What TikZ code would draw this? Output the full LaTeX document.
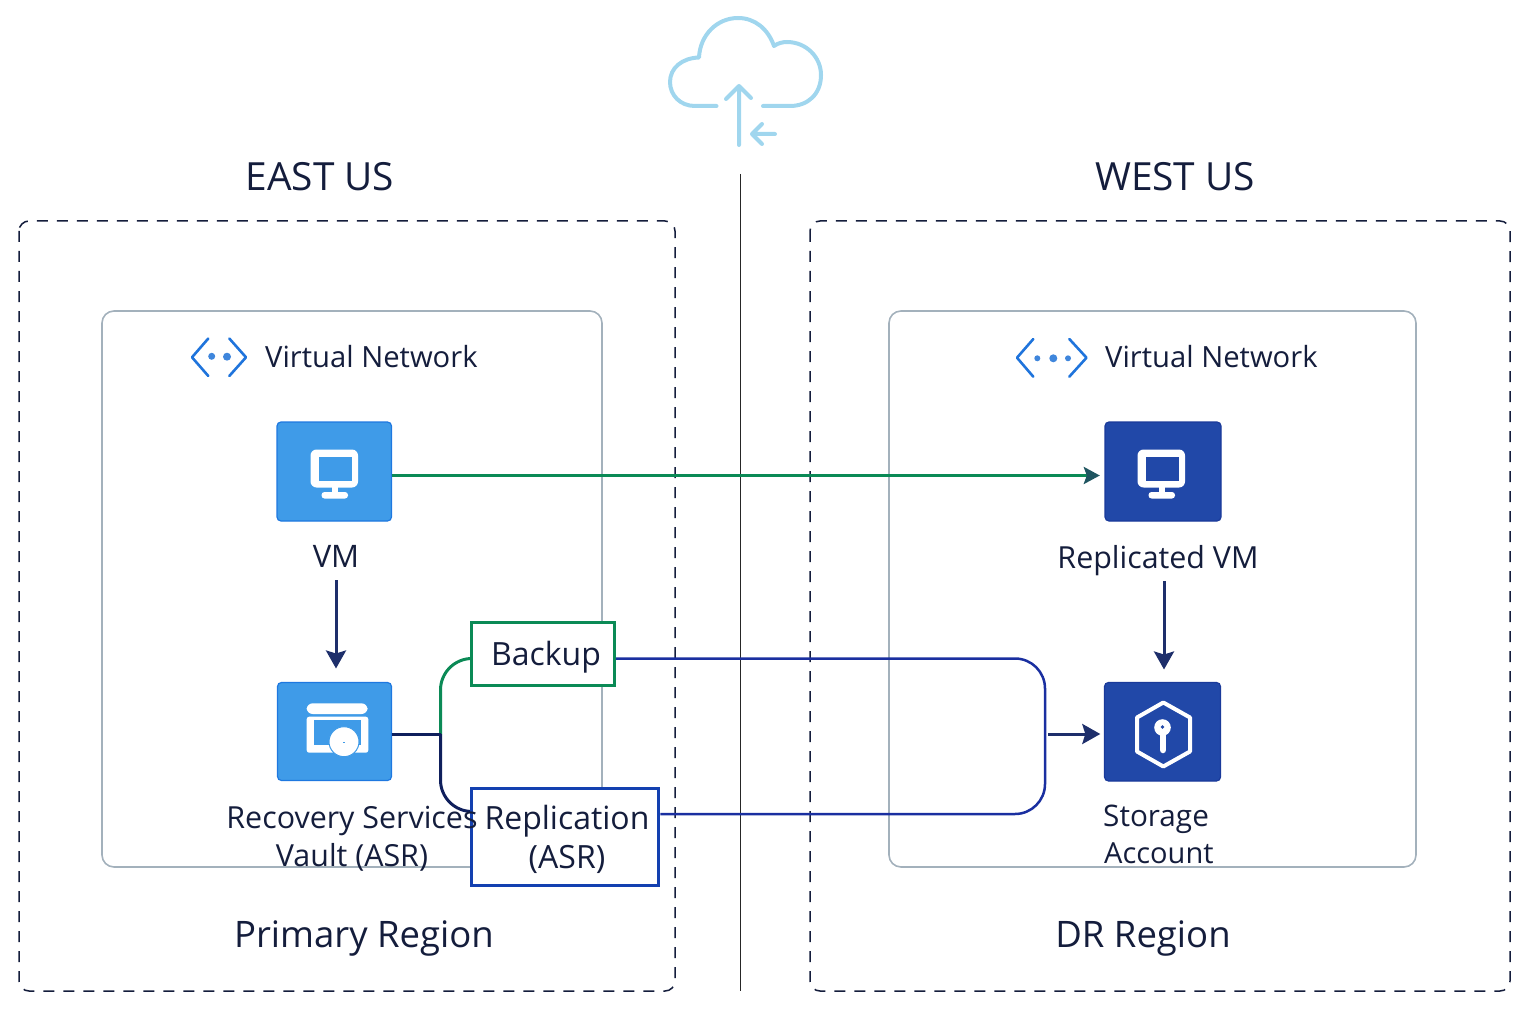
\documentclass[tikz,border=0pt]{standalone}
\usepackage{fontspec}
\setmainfont{Open Sans}
\usetikzlibrary{arrows.meta,calc}
\definecolor{ink}{HTML}{141D3C}
\definecolor{navy}{HTML}{1E2F6B}
\definecolor{deep}{HTML}{0F1F5C}
\definecolor{grn}{HTML}{0B8A56}
\definecolor{grnhead}{HTML}{1F5560}
\definecolor{blu}{HTML}{1340B0}
\definecolor{lineblue}{HTML}{1A2FA0}
\definecolor{ltblue}{HTML}{3F9BE8}
\definecolor{ltedge}{HTML}{1E78E0}
\definecolor{dkblue}{HTML}{2148A8}
\definecolor{dkedge}{HTML}{1A3A9A}
\definecolor{cloudc}{HTML}{A0D6EE}
\definecolor{netc}{HTML}{1F74DC}
\definecolor{netd}{HTML}{3F86DC}
\definecolor{gridc}{HTML}{A3B1BC}
\tikzset{
  x=1pt,y=-1pt,
  txt/.style={text=ink,font=\fontsize{30.4}{38}\selectfont,inner sep=0pt,align=center},
  title/.style={txt,font=\fontsize{38.8}{42}\selectfont},
  big/.style={txt,font=\fontsize{36.5}{40}\selectfont},
  box/.style={txt,font=\fontsize{32}{39}\selectfont},
  vn/.style={txt,font=\fontsize{29.2}{32}\selectfont},
  region/.style={draw=ink,line width=1.5pt,dash pattern=on 11pt off 9pt,rounded corners=10pt},
  vnet/.style={draw=gridc,line width=1.6pt,rounded corners=12pt},
  tile/.style={rounded corners=4pt,line width=1.2pt},
  ltile/.style={tile,draw=ltedge,fill=ltblue},
  dtile/.style={tile,draw=dkedge,fill=dkblue},
  arr/.style={draw=navy,line width=3pt,-{Stealth[length=18pt,width=20pt,inset=3pt]}},
  cloudline/.style={draw=cloudc,line width=4pt,line cap=round,line join=round},
  chev/.style={draw=netc,line width=2.6pt,line cap=round,line join=round},
  lab/.style={draw,fill=white,line width=3pt,inner sep=0pt},
}
\newcommand{\monitor}[3]{%
  \begin{scope}[shift={(#1,#2)}]
    \fill[white,rounded corners=6pt] (-24.5,-23.5) rectangle (23,14.5);
    \fill[#3] (-16,-16) rectangle (16.5,8);
    \fill[white] (-3,14) rectangle (3,20);
    \fill[white,rounded corners=3pt] (-13.5,19) rectangle (13,25.5);
  \end{scope}}
\begin{document}
\begin{tikzpicture}
\useasboundingbox (0,0) rectangle (1536,1024);
% cloud
\draw[cloudline] (716.5,106) -- (695,106)
  .. controls (680,106) and (670,95) .. (670,82)
  .. controls (670,68) and (682,58) .. (699,57.5)
  .. controls (700,35) and (717,18) .. (738,18)
  .. controls (755,18) and (768,29) .. (774,46)
  .. controls (778,43) and (783,42) .. (787,42)
  .. controls (806,42) and (821,57) .. (821,75)
  .. controls (821,94) and (808,106) .. (790,106)
  -- (763,106);
\draw[cloudline] (739,145) -- (739,86) (726,99) -- (739,86) -- (751,98);
\draw[cloudline] (775,134) -- (752,134) (762,124) -- (752,134) -- (762,144);
% centre line
\coordinate (ctop) at (740.5,174);
\coordinate (cbot) at (740.5,991);
\draw[black!85,line width=1.1pt] (ctop) -- (cbot);
% regions
\node[title] (east) at (320,177) {EAST US};
\node[title] (west) at (1175,177) {WEST US};
\draw[region] (19,221) rectangle (675,991);
\draw[region] (810,221) rectangle (1510,991);
\draw[vnet] (102,311) rectangle (602,867);
\draw[vnet] (889,311) rectangle (1416,867);
\node[vn,anchor=west] (vnl) at (265,357) {Virtual Network};
\node[vn,anchor=west] (vnr) at (1105,356.5) {Virtual Network};
\node[big] (primary) at (364,938) {Primary Region};
\node[big] (dr) at (1143,938) {DR Region};
% vnet icons
\draw[chev] (208.3,338.5) -- (192,357.3) -- (208.3,376);
\draw[chev] (229.3,338.5) -- (246,357.3) -- (229.3,376);
\fill[netd] (211.7,356.3) circle (3.5pt) (227,356.7) circle (4pt);
\draw[chev] (1033.3,339) -- (1017,357.7) -- (1033.3,376.7);
\draw[chev] (1069.3,339) -- (1086.5,357.7) -- (1069.3,376.7);
\fill[netd] (1037.3,358.3) circle (3pt) (1053.3,358.3) circle (4pt) (1068,358.3) circle (3pt);
% tiles
\path[ltile] (277,422) rectangle (391.5,521);
\coordinate (vmc) at (334.25,471.5);
\node[inner sep=0pt,minimum width=114.5pt,minimum height=99pt] (vm) at (vmc) {};
\monitor{335}{473}{ltblue}
\path[dtile] (1105,422) rectangle (1221,521);
\coordinate (rvmc) at (1163,471.5);
\node[inner sep=0pt,minimum width=116pt,minimum height=99pt] (rvm) at (rvmc) {};
\monitor{1162}{473}{dkblue}
\path[ltile] (277.5,682.5) rectangle (391.5,780.5);
\node[inner sep=0pt,minimum width=114pt,minimum height=98pt] (vault) at (334.5,731.5) {};
\fill[white,rounded corners=6pt] (306.7,714) -- (306.7,703.3) -- (367.5,703.3) -- (367.5,714) -- cycle;
\fill[white,rounded corners=2.5pt] (306.7,716.7) rectangle (368.3,752.7);
\fill[ltblue] (314.3,720) rectangle (361,745);
\draw[fill=white,draw=ltblue,line width=1pt] (344,741.7) circle (15pt);
\fill[ltblue] (343,741.5) rectangle (345,742);
\path[dtile] (1104.5,682.5) rectangle (1220.5,781);
\node[inner sep=0pt,minimum width=116pt,minimum height=98.5pt] (storage) at (1162.5,731.75) {};
\draw[white,line width=4pt,line join=round] (1163.3,702.5) -- (1190,717.5) -- (1190,751.5) -- (1163.3,766.5) -- (1137,751.5) -- (1137,717.5) -- cycle;
\fill[white] (1162.5,727.5) circle (8.3pt);
\draw[white,line width=6.5pt,line cap=round] (1163,730) -- (1163,750);
\fill[dkblue] (1162.5,727) circle (1.8pt);
% labels
\node[txt,font=\fontsize{31}{38}\selectfont] (vml) at (336,556) {VM};
\node[txt] (rvml) at (1158,561) {Replicated VM};
\node[txt,anchor=west,font=\fontsize{29.7}{36}\selectfont] (sal) at (1103,819) {Storage};
\node[txt,anchor=west,font=\fontsize{29}{36}\selectfont] (acl) at (1104,853) {Account};
% connectors
\coordinate (jn) at (440.5,734);
\coordinate (mid) at (1045,734);
\draw[draw=grn,line width=3pt] (jn) -- (440.5,690) arc[start angle=180,end angle=90,radius=31.5pt] -- (471,658.5);
\draw[draw=deep,line width=3pt] (jn) -- (440.5,780) arc[start angle=180,end angle=270,radius=31.5pt] -- (472,811.5);
\draw[draw=deep,line width=3pt] (vault.east |- jn) -- (jn);
\node[lab,draw=grn,minimum width=143pt,minimum height=63pt] (backup) at (543,653.7) {};
\node[box] (backupt) at (546,657) {Backup};
\node[lab,draw=blu,minimum width=187pt,minimum height=97pt] (repl) at (565.4,836.7) {};
\node[box] (replt) at (567,839.5) {Replication\\(ASR)};
\node[txt] (vaultl) at (352,838.5) {Recovery Services\\Vault (ASR)};
\draw[lineblue,line width=2.5pt,rounded corners=30pt] (backup.east |- 0,658.5) -- (1045,658.5) -- (1045,814) -- (repl.east |- 0,814);
\draw[draw=grn,line width=3pt,-{Stealth[length=16pt,width=17pt,inset=3pt,color=grnhead,fill=grnhead]}] (vm.east |- 0,475.5) -- ([xshift=-5pt]rvm.west |- 0,475.5);
\draw[arr,shorten >=14pt] (336,580) -- (336,682.5);
\draw[arr,shorten >=13pt] (1164,581) -- (1164,682.5);
\draw[arr] (1048,734) -- ([xshift=-4pt]storage.west |- 0,734);
\end{tikzpicture}
\end{document}
